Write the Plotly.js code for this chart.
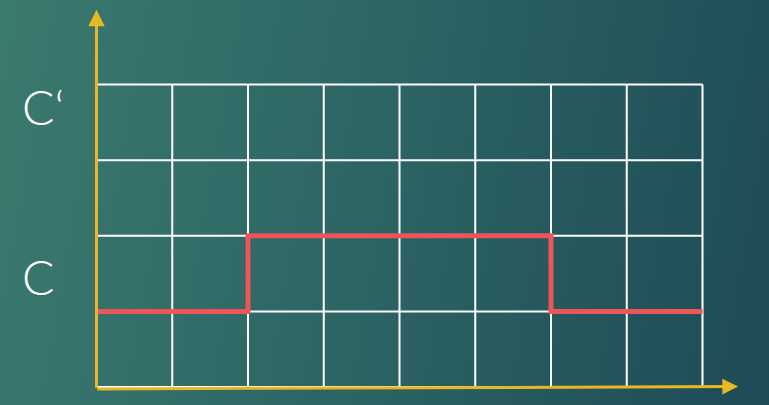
<!DOCTYPE html>
<html>
<head>
<meta charset="utf-8">
<script src="https://cdn.plot.ly/plotly-3.0.1.min.js"></script>
<style>
html,body{margin:0;padding:0;width:769px;height:405px;overflow:hidden;}
body{background:linear-gradient(100deg,#3b7a6f 0%,#2f6866 40%,#1d4b56 100%);}
#chart{width:769px;height:405px;}
</style>
</head>
<body>
<div id="chart"></div>
<script>
// Data
const stepX = [0, 2, 6, 8];
const stepY = [1, 2, 1, 1];
const gridX = [0, 1, 2, 3, 4, 5, 6, 7, 8];
const gridY = [0, 1, 2, 3, 4];
const levelLabels = ["C‘", "C"];

const xMin = gridX[0], xMax = gridX[gridX.length - 1];
const yMin = gridY[0], yMax = gridY[gridY.length - 1];

const shapes = [];
gridX.forEach(x => shapes.push({type:'line', xref:'x', yref:'y', x0:x, x1:x, y0:yMin, y1:yMax,
  line:{color:'#ffffff', width:2}, layer:'below'}));
gridY.forEach(y => shapes.push({type:'line', xref:'x', yref:'y', x0:xMin, x1:xMax, y0:y, y1:y,
  line:{color:'#ffffff', width:2}, layer:'below'}));

const axisColor = '#e8b824';
const labelFont = {family:'Lato, "Open Sans", sans-serif', size:48, color:'#ffffff', weight:300};
const annotations = [
  // y axis with arrow
  {x:0, y:4.99, ax:0, ay:-0.03, xref:'x', yref:'y', axref:'x', ayref:'y', showarrow:true,
   arrowhead:2, arrowsize:1.1, arrowwidth:3, arrowcolor:axisColor, text:''},
  // x axis with arrow
  {x:8.47, y:0.006, ax:-0.01, ay:-0.026, xref:'x', yref:'y', axref:'x', ayref:'y', showarrow:true,
   arrowhead:2, arrowsize:1.05, arrowwidth:3, arrowcolor:axisColor, text:''},
  {x:(43-5)/759, y:(400-106)/395, xref:'paper', yref:'paper', xanchor:'center', yanchor:'middle',
   text:levelLabels[0], showarrow:false, font:labelFont},
  {x:(38-5)/759, y:(400-276)/395, xref:'paper', yref:'paper', xanchor:'center', yanchor:'middle',
   text:levelLabels[1], showarrow:false, font:labelFont}
];

const trace = {x:stepX, y:stepY, type:'scatter', mode:'lines',
  line:{shape:'hv', color:'#ec5656', width:5}, hoverinfo:'skip'};

const pxPerX = 75.75, pxPerY = 75.625;
const layout = {
  width:769, height:405,
  margin:{l:5, r:5, t:5, b:5},
  paper_bgcolor:'rgba(0,0,0,0)', plot_bgcolor:'rgba(0,0,0,0)',
  showlegend:false,
  xaxis:{range:[-(96.5-5)/pxPerX, -(96.5-5)/pxPerX + 759/pxPerX], visible:false, fixedrange:true},
  yaxis:{range:[-(400-387)/pxPerY, -(400-387)/pxPerY + 395/pxPerY], visible:false, fixedrange:true},
  shapes:shapes,
  annotations:annotations
};
Plotly.newPlot('chart', [trace], layout, {displayModeBar:false, staticPlot:true});
</script>
</body>
</html>
